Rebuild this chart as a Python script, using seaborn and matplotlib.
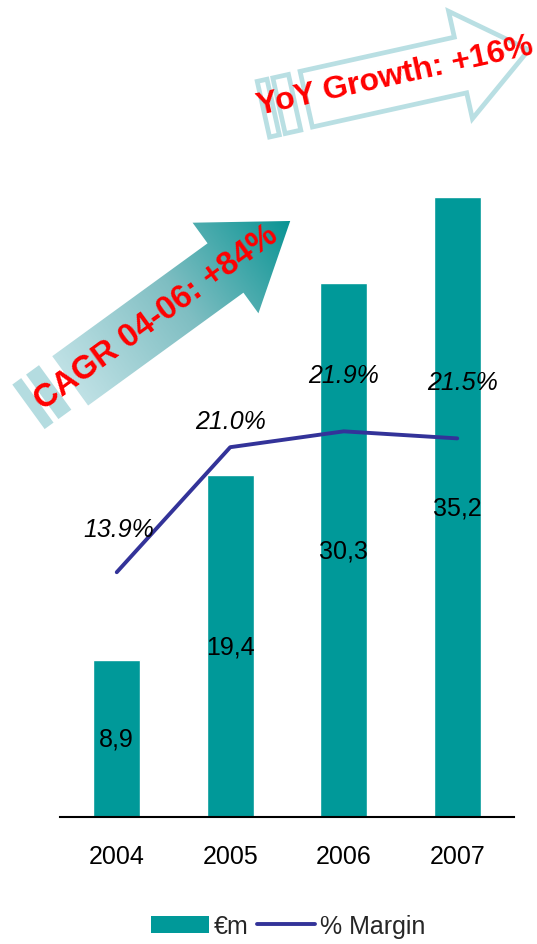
import numpy as np
import pandas as pd
import matplotlib
matplotlib.use("Agg")
import matplotlib.pyplot as plt
import seaborn as sns
from matplotlib.patches import Polygon, Patch
from matplotlib.lines import Line2D
from matplotlib.colors import LinearSegmentedColormap

# ---- data -------------------------------------------------------------
years = ["2004", "2005", "2006", "2007"]
revenue = [8.9, 19.4, 30.3, 35.2]      # €m
margin = [13.9, 21.0, 21.9, 21.5]      # % margin
cagr_text = "CAGR 04-06: +84%"
yoy_text = "YoY Growth: +16%"
legend_labels = ["€m", "% Margin"]

# ---- style ------------------------------------------------------------
TEAL = "#009999"
NAVY = "#333399"
RED = "#ff0000"
PALE = "#b4dce0"
OUTLINE = "#b9dfe3"

sns.set_style("white")
plt.rcParams["font.family"] = ["Liberation Sans", "DejaVu Sans"]

W, H = 537, 945
fig = plt.figure(figsize=(W / 100, H / 100), dpi=100)
ax = fig.add_axes([60 / W, 1 - 818 / H, 454 / W, 704.4 / H])

df = pd.DataFrame({"year": years, "revenue": revenue, "margin": margin})
sns.barplot(data=df, x="year", y="revenue", color=TEAL, width=0.41,
            saturation=1, errorbar=None, ax=ax, zorder=2)
sns.lineplot(x=np.arange(len(years)), y=margin, color=NAVY, lw=2.8,
             ax=ax, zorder=3)

ax.set_xlim(-0.5, 3.5)
ax.set_ylim(0, 40)
ax.set_xlabel("")
ax.set_ylabel("")
ax.set_yticks([])
for side in ("left", "right", "top"):
    ax.spines[side].set_visible(False)
ax.spines["bottom"].set_color("black")
ax.spines["bottom"].set_linewidth(1.5)
ax.tick_params(axis="x", length=0, pad=19.5, labelsize=18, colors="black")

# value labels inside the bars (comma decimals)
for i, v in enumerate(revenue):
    ax.text(i, v / 2, f"{v:.1f}".replace(".", ","), ha="center", va="center",
            fontsize=18, color="black", zorder=4)

# margin labels above the line
pct_offsets = [(0.02, 2.45), (0.0, 1.5), (0.0, 3.2), (0.05, 3.2)]
for i, (m, (dx, dy)) in enumerate(zip(margin, pct_offsets)):
    ax.text(i + dx, m + dy, f"{m:.1f}%", ha="center", va="center",
            fontsize=18, style="italic", color="black", zorder=4)

# ---- decorative growth arrows (pixel-space overlay) --------------------
ov = fig.add_axes([0, 0, 1, 1], zorder=5)
ov.set_xlim(0, W)
ov.set_ylim(H, 0)
ov.axis("off")
ov.patch.set_alpha(0)


def mapper(origin, angle):
    th = np.deg2rad(angle)
    u = np.array([np.cos(th), -np.sin(th)])
    v = np.array([np.sin(th), np.cos(th)])
    o = np.asarray(origin, float)

    def to_px(pts):
        pts = np.asarray(pts, float)
        return o + np.outer(pts[:, 0], u) + np.outer(pts[:, 1], v)
    return to_px, u


def arrow_shape(back, hs, hh, head):
    return [(back, -hs), (0, -hs), (0, -hh), (head, 0), (0, hh), (0, hs), (back, hs)]


def rect(s0, s1, t0, t1):
    return [(s0, t0), (s1, t0), (s1, t1), (s0, t1)]


# CAGR arrow: gradient fill, solid pale tail stripes
c_origin, c_angle = (225.5, 269.0), 36.0
c_px, c_u = mapper(c_origin, c_angle)
c_back, c_head = -192, 80
c_pts = c_px(arrow_shape(c_back, 30.5, 56, c_head))
c_poly = Polygon(c_pts, closed=True, facecolor="none", edgecolor="none")
ov.add_patch(c_poly)
x0, y0 = c_pts.min(axis=0) - 2
x1, y1 = c_pts.max(axis=0) + 2
gx, gy = np.meshgrid(np.linspace(x0, x1, 300), np.linspace(y0, y1, 300))
s_val = (gx - c_origin[0]) * c_u[0] + (gy - c_origin[1]) * c_u[1]
grad = np.clip((s_val - c_back) / (c_head - c_back), 0, 1)
cmap = LinearSegmentedColormap.from_list("teal_ramp", ["#bfe1e5", "#7fbec2", "#0a9494"])
img = ov.imshow(grad, extent=(x0, x1, y1, y0), origin="upper", cmap=cmap,
                aspect="auto", interpolation="bilinear", zorder=1)
img.set_clip_path(c_poly)
for s0, s1 in [(-224, -208), (-241, -230)]:
    ov.add_patch(Polygon(c_px(rect(s0, s1, -31, 24)), closed=True,
                         facecolor=PALE, edgecolor="none", zorder=1))
ov.text(*c_px([(-85, -1)])[0], cagr_text, rotation=c_angle, rotation_mode="anchor",
        ha="center", va="center", color=RED, fontsize=23.5, fontweight="bold", zorder=3)

# YoY arrow: outlined, white fill
y_origin, y_angle = (460.5, 66.0), 12.5
y_px, _ = mapper(y_origin, y_angle)
ov.add_patch(Polygon(y_px(arrow_shape(-158, 28.5, 55, 70)), closed=True,
                     facecolor="white", edgecolor=OUTLINE, lw=3.4,
                     joinstyle="miter", zorder=1))
for s0, s1 in [(-186, -170), (-202, -192)]:
    ov.add_patch(Polygon(y_px(rect(s0, s1, -28, 29)), closed=True,
                         facecolor="white", edgecolor=OUTLINE, lw=3.4, zorder=1))
ov.text(*y_px([(-66, -4)])[0], yoy_text, rotation=y_angle, rotation_mode="anchor",
        ha="center", va="center", color=RED, fontsize=23, fontweight="bold", zorder=3)
ov.set_xlim(0, W)
ov.set_ylim(H, 0)

# ---- legend -------------------------------------------------------------
handles = [Patch(facecolor=TEAL, edgecolor="none"),
           Line2D([], [], color=NAVY, lw=2.8)]
fig.legend(handles=handles, labels=legend_labels, ncol=2, loc="center",
           bbox_to_anchor=(288 / W, 1 - 927 / H), frameon=False, fontsize=18,
           handlelength=2.3, handletextpad=0.2, columnspacing=0.35,
           borderpad=0, borderaxespad=0)

fig.savefig("out.png", dpi=100)
